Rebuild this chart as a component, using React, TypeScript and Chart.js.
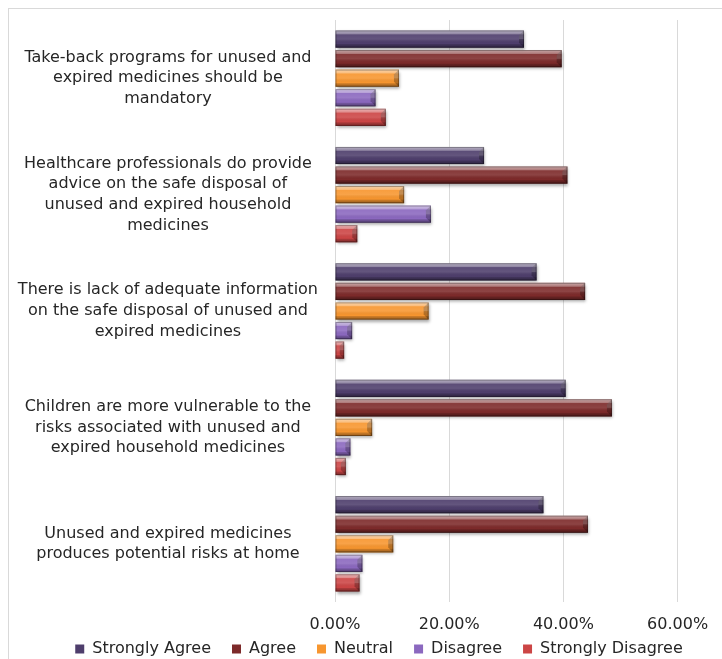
import { useEffect, useRef } from "react";
import { Chart, registerables } from "chart.js";

Chart.register(...registerables);

// Survey statements (multi-line axis labels)
const statements: string[][] = [
  ["Take-back programs for unused and", "expired medicines should be", "mandatory"],
  ["Healthcare professionals do provide", "advice on the safe disposal of", "unused and expired household", "medicines"],
  ["There is lack of adequate information", "on the safe disposal of unused and", "expired medicines"],
  ["Children are more vulnerable to the", "risks associated with unused and", "expired household medicines"],
  ["Unused and expired medicines", "produces potential risks at home"],
];

const seriesNames = ["Strongly Agree", "Agree", "Neutral", "Disagree", "Strongly Disagree"];

// Share of respondents, in percent
const stronglyAgree = [33.1, 26.1, 35.3, 40.4, 36.5];
const agree = [39.7, 40.7, 43.8, 48.5, 44.3];
const neutral = [11.2, 12.1, 16.4, 6.5, 10.2];
const disagree = [7.1, 16.8, 3.0, 2.7, 4.8];
const stronglyDisagree = [8.9, 3.9, 1.6, 1.9, 4.3];

const axisTicks = [0, 20, 40, 60];

const seriesColors = ["#4e3e6c", "#7d2a2a", "#f7962f", "#8b68bf", "#cc4545"];

const FONT = "'DejaVu Sans', 'Liberation Sans', Arial, sans-serif";
const TEXT = "#262626";

// Lets the x tick labels spill below the (deliberately short) x-axis box
const labelRoomPlugin = {
  id: "labelRoom",
  afterLayout(chart: any) {
    const x = chart.scales.x;
    if (x) x.bottom = chart.height;
  },
};

// Gives each bar a bevelled, glossy look with a soft drop shadow
const bevelPlugin = {
  id: "bevelBars",
  beforeDatasetsDraw(chart: any) {
    const ctx = chart.ctx;
    ctx.save();
    ctx.shadowColor = "rgba(0,0,0,0.35)";
    ctx.shadowBlur = 3;
    ctx.shadowOffsetX = 1;
    ctx.shadowOffsetY = 2;
  },
  afterDatasetsDraw(chart: any) {
    const ctx = chart.ctx;
    ctx.restore();
    chart.data.datasets.forEach((_: any, di: number) => {
      const meta = chart.getDatasetMeta(di);
      if (meta.hidden) return;
      meta.data.forEach((el: any) => {
        const { x, y, base, height } = el.getProps(["x", "y", "base", "height"], true);
        const left = Math.min(x, base);
        const right = Math.max(x, base);
        const w = right - left;
        if (w <= 0) return;
        const top = y - height / 2;
        const bottom = y + height / 2;
        const b = Math.min(5, w / 2, height / 3);

        ctx.save();
        const g = ctx.createLinearGradient(0, top, 0, bottom);
        g.addColorStop(0, "rgba(255,255,255,0.6)");
        g.addColorStop(0.2, "rgba(255,255,255,0.38)");
        g.addColorStop(0.25, "rgba(255,255,255,0.08)");
        g.addColorStop(0.5, "rgba(255,255,255,0.12)");
        g.addColorStop(0.76, "rgba(0,0,0,0)");
        g.addColorStop(0.82, "rgba(0,0,0,0.18)");
        g.addColorStop(1, "rgba(0,0,0,0.4)");
        ctx.fillStyle = g;
        ctx.fillRect(left, top, w, height);

        // right-hand chamfer
        ctx.beginPath();
        ctx.moveTo(right - b, top + b);
        ctx.lineTo(right, top);
        ctx.lineTo(right, bottom);
        ctx.lineTo(right - b, bottom - b);
        ctx.closePath();
        ctx.fillStyle = "rgba(0,0,0,0.25)";
        ctx.fill();

        ctx.beginPath();
        ctx.moveTo(right - b, top + b);
        ctx.lineTo(right, top);
        ctx.lineTo(right, top + height / 2);
        ctx.lineTo(right - b, top + height / 2);
        ctx.closePath();
        ctx.fillStyle = "rgba(255,255,255,0.15)";
        ctx.fill();

        ctx.strokeStyle = "rgba(0,0,0,0.3)";
        ctx.lineWidth = 1;
        ctx.strokeRect(left + 0.5, top + 0.5, w - 1, height - 1);
        ctx.restore();
      });
    });
  },
};

export default function App() {
  const canvasRef = useRef<HTMLCanvasElement | null>(null);

  useEffect(() => {
    const canvas = canvasRef.current;
    if (!canvas) return;
    const values = [stronglyAgree, agree, neutral, disagree, stronglyDisagree];
    const chart = new Chart(canvas, {
      type: "bar",
      data: {
        labels: statements,
        datasets: seriesNames.map((name, i) => ({
          label: name,
          data: values[i],
          backgroundColor: seriesColors[i],
          borderWidth: 0,
          barPercentage: 0.88,
          categoryPercentage: 0.84,
        })),
      },
      options: {
        indexAxis: "y",
        responsive: false,
        animation: false,
        layout: { padding: { top: 11, left: 0, right: 0, bottom: 0 } },
        plugins: {
          tooltip: { enabled: false },
          legend: {
            position: "bottom",
            labels: {
              boxWidth: 9,
              boxHeight: 9,
              padding: 21,
              color: TEXT,
              font: { family: FONT, size: 16 },
            },
          },
        },
        scales: {
          x: {
            min: 0,
            max: 72.5,
            afterBuildTicks: (scale: any) => {
              scale.ticks = axisTicks.map((v) => ({ value: v }));
            },
            afterFit: (scale: any) => {
              scale.height = 18;
              scale.paddingLeft = 0;
              scale.paddingRight = 0;
            },
            grid: { color: "#d9d9d9", drawTicks: false, lineWidth: 1 },
            border: { display: false },
            ticks: {
              padding: 13,
              color: TEXT,
              font: { family: FONT, size: 16 },
              callback: (v: any) => Number(v).toFixed(2) + "%",
            },
          },
          y: {
            afterFit: (scale: any) => {
              scale.width = 326;
              scale.paddingTop = 0;
              scale.paddingBottom = 0;
            },
            grid: { display: false, drawTicks: false },
            border: { display: false },
            ticks: {
              crossAlign: "center",
              padding: 17,
              color: TEXT,
              font: { family: FONT, size: 16, lineHeight: 1.3 },
            },
          },
        },
      },
      plugins: [labelRoomPlugin, bevelPlugin],
    } as any);
    return () => chart.destroy();
  }, []);

  return (
    <div
      style={{
        position: "fixed",
        left: 8,
        top: 8,
        right: 0,
        bottom: 0,
        overflow: "hidden",
        borderTop: "1px solid #d9d9d9",
        borderLeft: "1px solid #d9d9d9",
        background: "#fff",
      }}
    >
      <canvas ref={canvasRef} width={740} height={658} style={{ display: "block" }} />
    </div>
  );
}
